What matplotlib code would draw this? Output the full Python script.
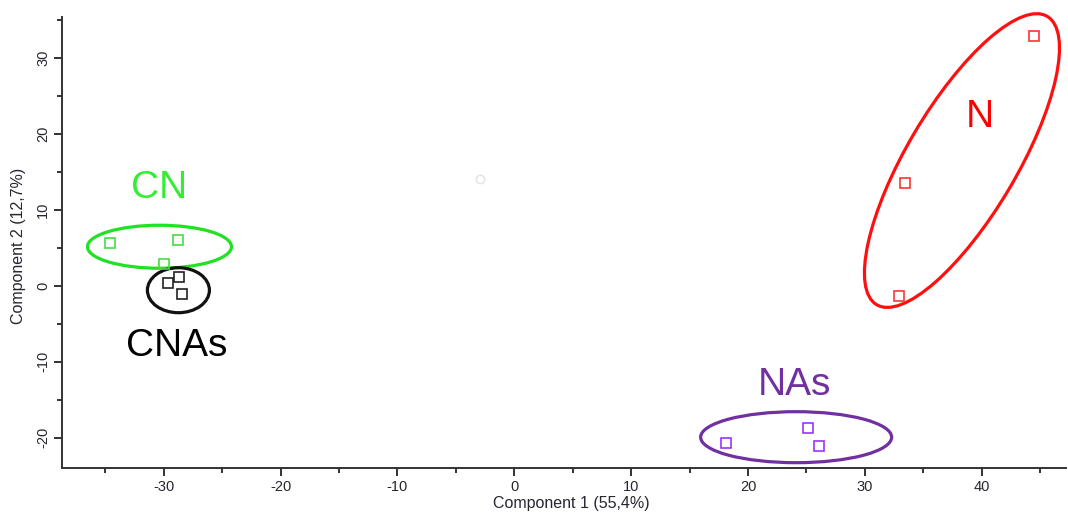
import matplotlib
matplotlib.use("Agg")
import matplotlib.pyplot as plt
from matplotlib.patches import Ellipse
from matplotlib import transforms
from matplotlib.ticker import MultipleLocator

plt.rcParams['font.family'] = ['Liberation Sans', 'DejaVu Sans']
plt.rcParams['axes.unicode_minus'] = False

# PCA scores per group
cn_x = [-34.6, -28.8, -30.0]
cn_y = [5.6, 6.0, 2.9]
cnas_x = [-29.6, -28.7, -28.4]
cnas_y = [0.4, 1.2, -1.1]
nas_x = [18.1, 25.1, 26.1]
nas_y = [-20.7, -18.7, -21.1]
n_x = [32.9, 33.4, 44.5]
n_y = [-1.4, 13.5, 32.9]
other_x = [-2.9]
other_y = [14.1]

x_label = "Component 1 (55,4%)"
y_label = "Component 2 (12,7%)"

fig = plt.figure(figsize=(10.68, 5.12), dpi=100)
ax = fig.add_axes([0.0585, 0.0869, 0.9396, 0.8793])

mk = dict(linestyle='none', marker='s', markersize=6.5, markerfacecolor='none',
          markeredgewidth=1.2)
ax.plot(other_x, other_y, marker='o', linestyle='none', markersize=6,
        markerfacecolor='none', markeredgecolor='#e2e2e2', markeredgewidth=1.0)
ax.plot(cn_x, cn_y, markeredgecolor='#44dd44', **mk)
ax.plot(cnas_x, cnas_y, markeredgecolor='#222222', **mk)
ax.plot(nas_x, nas_y, markeredgecolor='#9933ff', **mk)
ax.plot(n_x, n_y, markeredgecolor='#ff3333', **mk)


def ring(cx, cy, w_in, h_in, angle, color):
    # ellipse sized in inches, centred on a data point
    trans = fig.dpi_scale_trans + transforms.ScaledTranslation(cx, cy, ax.transData)
    e = Ellipse((0, 0), w_in, h_in, angle=angle, transform=trans,
                fill=False, edgecolor=color, linewidth=2.3, clip_on=False)
    ax.add_artist(e)


ring(-30.36, 5.13, 1.44, 0.43, 0, '#22e022')
ring(-28.74, -0.59, 0.62, 0.45, 0, '#111111')
ring(24.12, -19.93, 1.91, 0.51, 0, '#7030a0')
ring(38.31, 16.47, 3.35, 1.10, 59.4, '#ff1010')

ax.text(-30.4, 12.8, "CN", color='#33ee33', fontsize=28, ha='center', va='center')
ax.text(-28.9, -7.9, "CNAs", color='#000000', fontsize=28, ha='center', va='center')
ax.text(24.0, -13.1, "NAs", color='#7030a0', fontsize=28, ha='center', va='center')
ax.text(39.8, 22.2, "N", color='#ff0000', fontsize=28, ha='center', va='center')

ax.set_xlim(-38.66, 47.21)
ax.set_ylim(-23.92, 35.32)

ax.xaxis.set_major_locator(MultipleLocator(10))
ax.xaxis.set_minor_locator(MultipleLocator(5))
ax.yaxis.set_major_locator(MultipleLocator(10))
ax.yaxis.set_minor_locator(MultipleLocator(5))

for s in ['top', 'right']:
    ax.spines[s].set_visible(False)
for s in ['left', 'bottom']:
    ax.spines[s].set_linewidth(1.4)
    ax.spines[s].set_color('#333333')

ax.tick_params(which='major', direction='out', length=5.5, width=1.4,
               color='#333333', labelsize=10.5, labelcolor='#262630')
ax.tick_params(which='minor', direction='out', length=3.5, width=1.4, color='#333333')
for lbl in ax.get_yticklabels():
    lbl.set_rotation(90)
    lbl.set_va('center')

ax.set_xlabel(x_label, fontsize=11.5, color='#262630')
ax.set_ylabel(y_label, fontsize=11.5, color='#262630')
ax.xaxis.set_label_coords(0.507, -0.079)
ax.yaxis.set_label_coords(-0.044, 0.492)
ax.xaxis.label.set_va('center')
ax.yaxis.label.set_va('center')

fig.savefig("out.png", dpi=100)
